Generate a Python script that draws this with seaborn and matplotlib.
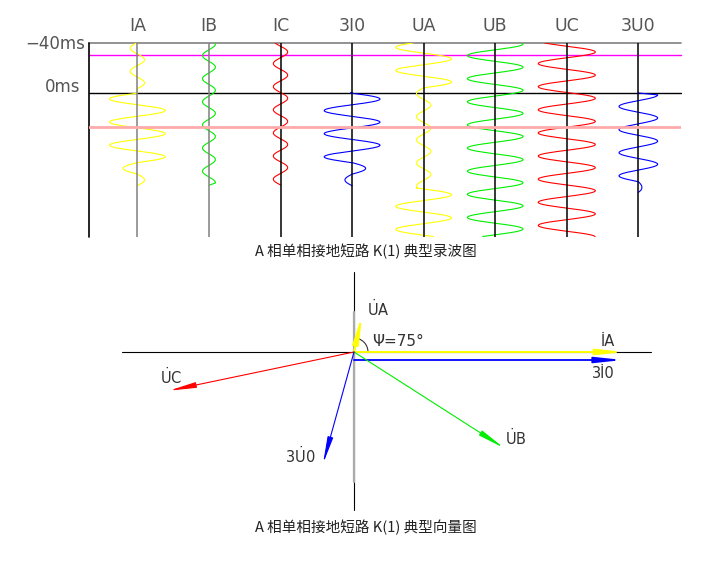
import numpy as np
import seaborn as sns
import matplotlib.pyplot as plt
from matplotlib.patches import Arc

sns.set_style("white")
plt.rcParams['font.family'] = ['DejaVu Sans', 'Noto Sans CJK SC']
plt.rcParams['mathtext.fontset'] = 'dejavusans'

## waveform data (time in ms, amplitude in channel spacings)
channels = ["IA", "IB", "IC", "3I0", "UA", "UB", "UC", "3U0"]
wave_colors = ["#ffff00", "#00ee00", "#ff0000", "#0000ff",
               "#ffff00", "#00ee00", "#ff0000", "#0000ff"]
axis_colors = ["#808080", "#808080", "black", "black",
               "black", "black", "black", "black"]
period_ms = 18.5

# segments: (t_start, t_end, amplitude, time of right peak)
ia_segments = [(-40, -3.5, 0.10, -26.6), (0.1, 55.7, 0.39, -4.5),
               (55.7, 64.9, 0.20, -4.5), (64.9, 74.1, 0.10, -4.5)]
ib_segments = [(-40, 72.0, 0.09, -39.2)]
ic_segments = [(-40, 73.6, 0.10, -32.8)]
i0_segments = [(0.0, 55.7, 0.39, 4.8), (55.7, 64.9, 0.19, 4.8),
               (64.9, 74.2, 0.10, 4.8)]
ua_segments = [(-40, -4.2, 0.39, -8.8), (-4.2, 76.0, 0.10, 9.7),
               (76.0, 114.8, 0.39, 81.4)]
ub_segments = [(-40, 114.8, 0.39, -39.2)]
uc_segments = [(-40, 114.8, 0.40, -32.8)]
u0_segments = [(1.5, 70.9, 0.27, 1.5), (70.9, 78.0, 0.05, 1.5)]
segments = [ia_segments, ib_segments, ic_segments, i0_segments,
            ua_segments, ub_segments, uc_segments, u0_segments]
# where a trace starts / ends back on its zero line (None = no extra point)
start_on_axis = [None, None, None, 0.0, None, None, None, 0.0]
end_on_axis = [None, 73.8, None, None, None, None, None, 79.5]

ref_lines = [(-40, "#808080", 1.2), (-30.4, "#ff00ff", 1.0), (0, "black", 1.0)]
fault_line = 27.2

## phasor data (length in px, angle in degrees)
U_DOT = r"$\dot{\mathrm{U}}$"
phasor_labels = ["\u0130A", "3\u01300", U_DOT + "A", U_DOT + "B", U_DOT + "C", "3" + U_DOT + "0"]
phasor_mag = [271, 269, 38, 178, 189, 116]
phasor_ang = [0, 0, 77.5, -32.6, 191.8, 254.5]
phasor_colors = ["#ffff00", "#0000ff", "#ffff00", "#00ee00", "#ff0000", "#0000ff"]
phasor_lw = [1.4, 1.3, 1.4, 0.8, 0.8, 0.8]
phasor_dy = [0, -8, 0, 0, 0, 0]
label_pos = [(254, 11), (249, -21), (24, 43), (162, -86), (-183, -25), (-54, -104)]
psi_deg = 75

W, H = 727, 562
fig = plt.figure(figsize=(W / 100, H / 100), dpi=100)


def px_axes(x0, y0, x1, y1):
    return fig.add_axes([x0 / W, 1 - y1 / H, (x1 - x0) / W, (y1 - y0) / H])


# ---- waveform panel
ax = px_axes(89, 43, 681, 236.5)
x_left = -0.676
ax.set_xlim(x_left, 7.596)
ax.set_ylim(114.8, -40)
ax.axis("off")

for y, c, lw in ref_lines:
    ax.axhline(y, color=c, lw=lw, zorder=1, clip_on=False)
ax.axvline(x_left, color="black", lw=1.2, clip_on=False)

for i, name in enumerate(channels):
    xs, ts = [], []
    if start_on_axis[i] is not None:
        xs.append(i)
        ts.append(start_on_axis[i])
    for t0, t1, amp, tp in segments[i]:
        t = np.linspace(t0, t1, 250)
        xs.extend(i + amp * np.cos(2 * np.pi * (t - tp) / period_ms))
        ts.extend(t)
    if end_on_axis[i] is not None:
        xs.append(i)
        ts.append(end_on_axis[i])
    sns.lineplot(x=np.array(xs), y=np.array(ts), sort=False, estimator=None,
                 color=wave_colors[i], lw=0.8, ax=ax, zorder=2)
    ax.axvline(i, color=axis_colors[i], lw=1.1, zorder=3)
    ax.text(i, -53.6, name, ha="center", va="center", fontsize=12.5,
            color="#555555", clip_on=False)

ax.axhline(fault_line, color="#ffaaaa", lw=2, zorder=5)
ax.text(-0.736, -39.2, "\u221240ms", ha="right", va="center", fontsize=12,
        color="#555555", clip_on=False)
ax.text(-0.79, -5.2, "0ms", ha="right", va="center", fontsize=12,
        color="#555555", clip_on=False)

fig.text(366 / W, 1 - 251 / H, "A 相单相接地短路 K(1) 典型录波图", ha="center",
         va="center", fontsize=10.5, color="#222222", family=["Noto Sans CJK SC"])

# ---- phasor panel
ax2 = px_axes(100, 262, 690, 515)
ax2.set_xlim(-254, 336)
ax2.set_ylim(-163, 90)
ax2.axis("off")

ax2.plot([-232, 297], [0, 0], color="black", lw=0.8, zorder=1)
ax2.plot([0, 0], [80, -158], color="black", lw=0.8, zorder=1)
ax2.plot([0, 0], [40, -130], color="#aaaaaa", lw=1.6, zorder=1)

for lab, m, a, c, lw, dy, (lx, ly) in zip(phasor_labels, phasor_mag, phasor_ang,
                                           phasor_colors, phasor_lw, phasor_dy, label_pos):
    r = np.deg2rad(a)
    tip = (m * np.cos(r), dy + m * np.sin(r))
    ax2.annotate("", xy=tip, xytext=(0, dy),
                 arrowprops=dict(arrowstyle="-|>,head_length=1.6,head_width=0.17",
                                 color=c, lw=lw, shrinkA=0, shrinkB=0,
                                 mutation_scale=10), zorder=3)
    ax2.text(lx, ly, lab, ha="center", va="center", fontsize=10.5, color="#333333")

ax2.add_patch(Arc((0, 0), 28, 28, theta1=0, theta2=phasor_ang[2],
                  color="#333333", lw=0.8))
ax2.text(44, 11, "\u03a8=%d\u00b0" % psi_deg, ha="center", va="center",
         fontsize=11, color="#333333")

fig.text(366 / W, 1 - 527 / H, "A 相单相接地短路 K(1) 典型向量图", ha="center",
         va="center", fontsize=10.5, color="#222222", family=["Noto Sans CJK SC"])

fig.savefig("out.png", dpi=100)
